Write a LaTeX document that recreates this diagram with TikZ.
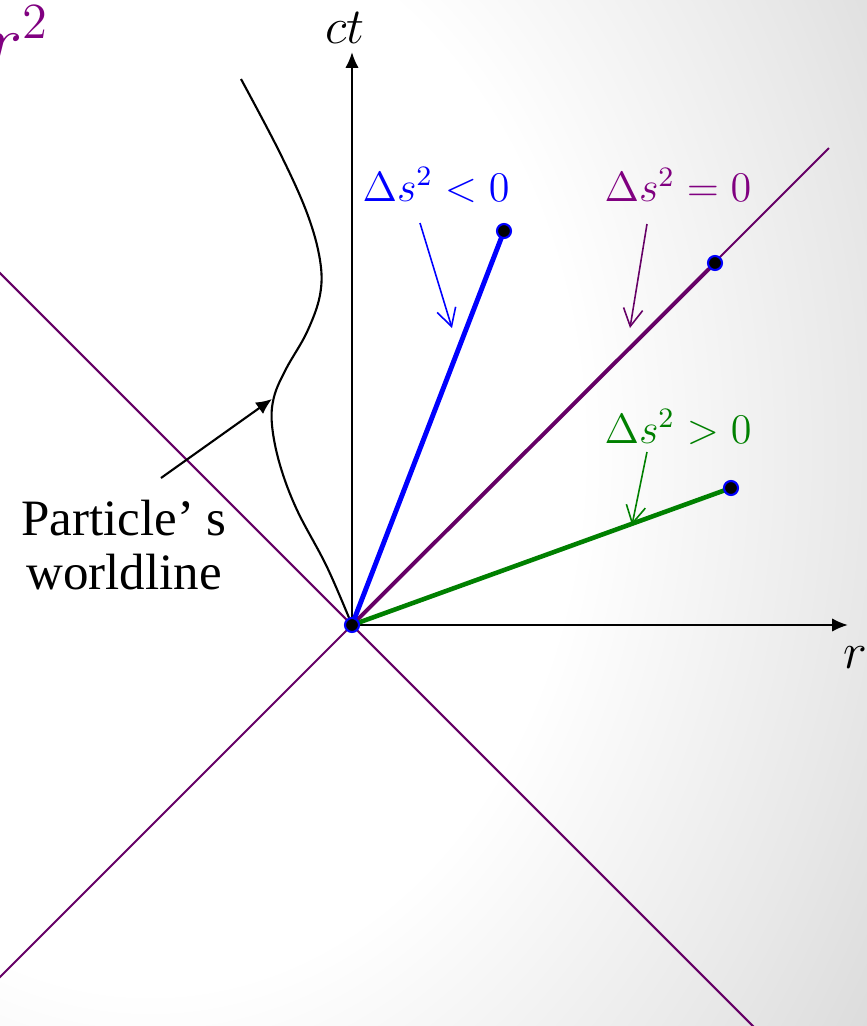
\documentclass[tikz,border=0pt]{standalone}
\usepackage{amsmath}
\usepackage{fontspec}
\setmainfont{Liberation Serif}
\usetikzlibrary{calc,arrows.meta}

\definecolor{conepurple}{RGB}{102,0,102}
\definecolor{lblpurple}{RGB}{128,0,128}
\definecolor{darkgreen}{RGB}{0,128,0}
\pgfdeclareradialshading{bgfade}{\pgfpoint{0bp}{0bp}}{%
  color(0bp)=(white); color(15bp)=(white); color(25bp)=(black!9);
  color(30bp)=(black!14); color(50bp)=(black!20)}

\begin{document}
\begin{tikzpicture}[x=0.01cm, y=0.01cm,
    cone/.style={conepurple, line width=0.6pt},
    axis/.style={black, line width=0.6pt, -{Latex[length=4.5pt,width=3.8pt]}},
    note/.style={line width=0.45pt, -{Straight Barb[length=5pt,width=5.5pt]}},
    dot/.style={fill=black, draw=blue, line width=0.6pt},
    lbl/.style={font=\fontsize{12}{14}\selectfont}]
  % 画布和背景
  \useasboundingbox (-352,-401) rectangle (515,625);
  \clip (-352,-401) rectangle (515,625);
  \shade[shading=bgfade] (-919,-725) rectangle (515,1075);
  \coordinate (O) at (0,0);
  \coordinate (T) at (152,394);
  \coordinate (N) at (363,362);
  \coordinate (S) at (379,137);
  % 光锥
  \coordinate (c1) at (-420,420);
  \coordinate (c2) at (420,-420);
  \coordinate (c3) at (-420,-420);
  \coordinate (c4) at (477,477);
  \draw[cone] (c1) -- (c2);
  \draw[cone] (c3) -- (c4);
  % 坐标轴
  \coordinate (ctend) at (0,573);
  \coordinate (rend) at (496,0);
  \draw[axis] (O) -- (ctend);
  \draw[axis] (O) -- (rend);
  \node[font=\fontsize{14.4}{17}\selectfont] (ctlab) at (-7,597) {$ct$};
  \node[font=\fontsize{14.4}{17}\selectfont] (rlab) at (503,-33) {$r$};
  \node[anchor=base west, inner sep=0, lblpurple, font=\fontsize{20.74}{25}\selectfont]
    (rsq) at (-364,560) {$r^2$};
  % 世界线
  \draw[line width=0.6pt] plot[smooth, tension=0.6] coordinates {(-111,546)
    (-72,472) (-45,412) (-32,365) (-32,330) (-45,293) (-66,256) (-78,228)
    (-80,200) (-72,160) (-55,115) (-25,58) (O)};
  \node[align=center, font=\fontsize{14.5}{15.6}\selectfont] (plab) at (-228,80)
    {Particle’ s\\worldline};
  \coordinate (pstart) at (-191,147);
  \coordinate (wl) at (-80,226);
  \draw[line width=0.6pt, -{Latex[length=4.5pt,width=4pt]}] (pstart) -- (wl);
  % 三种间隔
  \draw[conepurple, line width=1.1pt] (O) -- (N);
  \draw[blue, line width=1.4pt] (O) -- (T);
  \draw[darkgreen, line width=1.3pt] (O) -- (S);
  \foreach \pt in {O,T,N,S}
    \filldraw[dot] (\pt) circle (7);
  % 标注
  \node[lbl, blue] (tlab) at (84,440) {$\Delta s^2<0$};
  \node[lbl, lblpurple] (nlab) at (326,440) {$\Delta s^2=0$};
  \node[lbl, darkgreen] (slab) at (326,198) {$\Delta s^2>0$};
  \coordinate (ta) at (68,402);  \coordinate (tb) at (100,297);
  \coordinate (na) at (295,401); \coordinate (nb) at (278,297);
  \coordinate (sa) at (295,173); \coordinate (sb) at (280,100);
  \draw[note, blue] (ta) -- (tb);
  \draw[note, conepurple] (na) -- (nb);
  \draw[note, darkgreen] (sa) -- (sb);
\end{tikzpicture}
\end{document}
